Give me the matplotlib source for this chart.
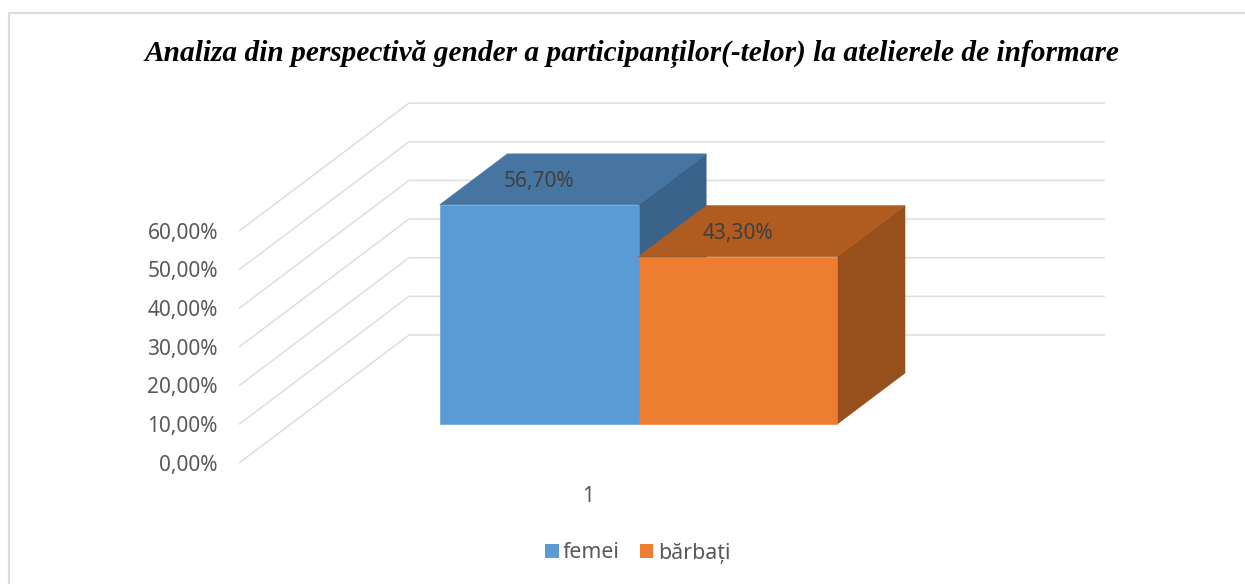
import matplotlib
matplotlib.use("Agg")
import matplotlib.pyplot as plt
from matplotlib.patches import Patch

title = "Analiza din perspectivă gender a participanților(-telor) la atelierele de informare"
series = ["femei", "bărbați"]
values = [56.7, 43.3]
value_labels = ["56,70%", "43,30%"]
ticks = [0, 10, 20, 30, 40, 50, 60]
tick_labels = ["0,00%", "10,00%", "20,00%", "30,00%", "40,00%", "50,00%", "60,00%"]
category = "1"

front_colors = ["#5B9BD5", "#ED7D31"]
top_colors = ["#4675A1", "#B05B20"]
side_colors = ["#39638A", "#974F1B"]
grid_color = "#DEDEDE"
label_font = "Noto Sans"

# the fake 3d box in pixels of the figure
wall_left = 239
wall_back = 409
wall_right = 1105
floor_front = 463
floor_back = 335
px_per_unit = 3.865


def project(x, depth, v):
    """x and depth are 0-1 along the floor, v is the value axis"""
    px = wall_left + (wall_back - wall_left) * depth + (wall_right - wall_back) * x
    py = floor_front - (floor_front - floor_back) * depth - v * px_per_unit
    return px, py


def face(ax, corners, color, z):
    pts = [project(*c) for c in corners]
    ax.fill([p[0] for p in pts], [p[1] for p in pts], facecolor=color,
            edgecolor=color, linewidth=0.4, zorder=z)


fig = plt.figure(figsize=(12.45, 5.84), dpi=100)
ax = fig.add_axes([0, 0, 1, 1])
ax.set_xlim(0, 1245)
ax.set_ylim(584, 0)
ax.set_axis_off()

# frame around the chart, only top and left show
ax.plot([9, 9, 1245], [584, 13, 13], color="#DCDCDC", lw=1.6, zorder=1)

ax.text(632, 54, title, family="Liberation Serif", style="italic", weight="bold",
        fontsize=21.2, color="black", ha="center", va="center")

for t, lab in zip(ticks, tick_labels):
    xs, ys = zip(project(0, 0, t), project(0, 1, t), project(1, 1, t))
    ax.plot(xs, ys, color=grid_color, lw=1.1, zorder=1, solid_capstyle="butt")
    ax.text(218, project(0, 0, t)[1] + 2, lab, family=label_font, fontsize=15,
            color="#595959", ha="right", va="center")

# bars, the second one goes in front of the first one's side
bar_width = 0.2857
depth0 = 0.305
depth1 = 0.703
start = 0.2138
for i in [0, 1]:
    x0 = start + i * bar_width
    x1 = x0 + bar_width
    v = values[i]
    z = 3 + i * 3
    face(ax, [(x1, depth0, 0), (x1, depth1, 0), (x1, depth1, v), (x1, depth0, v)], side_colors[i], z)
    face(ax, [(x0, depth0, v), (x1, depth0, v), (x1, depth1, v), (x0, depth1, v)], top_colors[i], z)
    face(ax, [(x0, depth0, 0), (x1, depth0, 0), (x1, depth0, v), (x0, depth0, v)], front_colors[i], z + 1)
    cx = project((x0 + x1) / 2, depth0, v)
    ax.text(cx[0], cx[1] - 23, value_labels[i], family=label_font, fontsize=15,
            color="#404040", ha="center", va="center", zorder=10)

ax.text(588, 497, category, family=label_font, fontsize=15, color="#595959",
        ha="center", va="center")

handles = [Patch(facecolor=c, label=s) for c, s in zip(front_colors, series)]
leg = ax.legend(handles=handles, loc="center", bbox_to_anchor=(637.5 / 1245, 1 - 553 / 584),
                ncol=2, frameon=False, handlelength=0.65, handleheight=0.65,
                handletextpad=0.2, columnspacing=0.92,
                prop={"family": label_font, "size": 15.4})
for txt in leg.get_texts():
    txt.set_color("#595959")

fig.savefig("out.png", dpi=100)
